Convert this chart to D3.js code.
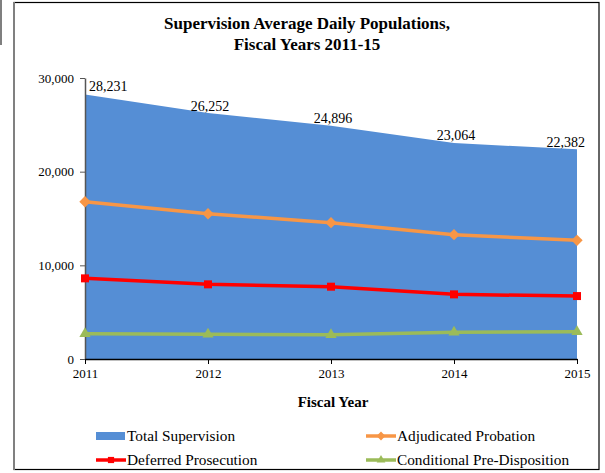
<!DOCTYPE html>
<html><head><meta charset="utf-8">
<script src="https://cdn.jsdelivr.net/npm/d3@7"></script>
<style>body{margin:0;background:#fff;} svg{display:block;}</style>
</head><body>
<svg id="c" width="605" height="473"></svg>
<script>
const years = [2011, 2012, 2013, 2014, 2015];
const totalSupervision = [28231, 26252, 24896, 23064, 22382];
const adjudicatedProbation = [16790, 15510, 14550, 13270, 12670];
const deferredProsecution = [8610, 7970, 7720, 6900, 6720];
const conditionalPreDisposition = [2700, 2630, 2590, 2850, 2920];
const yTicks = [0, 10000, 20000, 30000];

const svg = d3.select("#c");
const font = "'Liberation Serif', 'Times New Roman', serif";

// frame
svg.append("rect").attr("x",14).attr("y",2.5).attr("width",585).attr("height",467)
  .attr("fill","#fff").attr("stroke","#000").attr("stroke-width",1.2);
svg.append("line").attr("x1",14).attr("x2",14).attr("y1",2).attr("y2",470).attr("stroke","#808080").attr("stroke-width",2);
svg.append("line").attr("x1",1).attr("x2",1).attr("y1",0).attr("y2",45).attr("stroke","#555").attr("stroke-width",1.5);

const x = d3.scaleLinear().domain([2011,2015]).range([85,577]);
const y = d3.scaleLinear().domain([0,30000]).range([359,78]);

// title
const t = svg.append("text").attr("text-anchor","middle").attr("font-family",font)
  .attr("font-weight","bold").attr("font-size",17).attr("fill","#000");
t.append("tspan").attr("x",307).attr("y",29).text("Supervision Average Daily Populations,");
t.append("tspan").attr("x",307).attr("y",50).text("Fiscal Years 2011-15");

// area
const area = d3.area().x((d,i)=>x(years[i])).y0(y(0)).y1(d=>y(d));
svg.append("path").datum(totalSupervision).attr("d",area).attr("fill","#558ed5");

// data labels
svg.selectAll("text.dl").data(totalSupervision).enter().append("text")
  .attr("class","dl").attr("font-family",font).attr("font-size",14).attr("fill","#000")
  .attr("text-anchor",(d,i)=> i===0 ? "start" : (i===4 ? "end" : "middle"))
  .attr("x",(d,i)=> i===0 ? x(years[i])+4 : (i===4 ? x(years[i])+8 : x(years[i])+2))
  .attr("y",(d,i)=> y(d) - (i===0 ? 4 : 2.5))
  .text(d=>d3.format(",")(d));

// axes
const yAxis = d3.axisLeft(y).tickValues(yTicks).tickFormat(d3.format(",")).tickSize(5).tickSizeOuter(0);
const gy = svg.append("g").attr("transform",`translate(${x(2011)},0)`).call(yAxis);
gy.attr("font-family",font);
gy.select(".domain").attr("stroke","#555").attr("stroke-width",1.5);
gy.selectAll(".tick line").attr("stroke","#555");
gy.selectAll("text").attr("font-family",font).attr("font-size",13).attr("fill","#000").attr("x",-11);

const xAxis = d3.axisBottom(x).tickValues(years).tickFormat(d3.format("d")).tickSize(5).tickSizeOuter(0);
const gx = svg.append("g").attr("transform",`translate(0,${y(0)})`).call(xAxis);
gx.attr("font-family",font);
gx.select(".domain").attr("stroke","#000").attr("stroke-width",1.3);
gx.selectAll(".tick line").attr("stroke","#000");
gx.selectAll("text").attr("font-family",font).attr("font-size",13).attr("fill","#000").attr("y",10);

svg.append("text").attr("x",333).attr("y",407).attr("text-anchor","middle").attr("font-family",font)
  .attr("font-weight","bold").attr("font-size",15).text("Fiscal Year");

// lines
const line = d3.line().x((d,i)=>x(years[i])).y(d=>y(d));
const series = [
  {name:"Adjudicated Probation", data:adjudicatedProbation, color:"#f79646", sym:d3.symbolSquare, size:64, rot:45},
  {name:"Deferred Prosecution", data:deferredProsecution, color:"#ff0000", sym:d3.symbolSquare, size:64, rot:0},
  {name:"Conditional Pre-Disposition", data:conditionalPreDisposition, color:"#9bbb59", sym:d3.symbolTriangle, size:55, rot:0},
];
series.forEach(s=>{
  svg.append("path").datum(s.data).attr("d",line).attr("fill","none").attr("stroke",s.color).attr("stroke-width",3.5);
  svg.selectAll(null).data(s.data).enter().append("path")
    .attr("d",d3.symbol().type(s.sym).size(s.size))
    .attr("transform",(d,i)=>`translate(${x(years[i])},${y(d)}) rotate(${s.rot})`).attr("fill",s.color);
});

// legend
const lg = svg.append("g").attr("font-family",font).attr("font-size",15.3);
const items = [
  {name:"Total Supervision", type:"rect", color:"#558ed5", lx:96, ly:436},
  {name:"Adjudicated Probation", s:series[0], lx:366, ly:436},
  {name:"Deferred Prosecution", s:series[1], lx:96, ly:460},
  {name:"Conditional Pre-Disposition", s:series[2], lx:366, ly:460},
];
items.forEach(it=>{
  if(it.type==="rect"){
    lg.append("rect").attr("x",it.lx).attr("y",it.ly-4).attr("width",29).attr("height",8).attr("fill",it.color);
  } else {
    lg.append("line").attr("x1",it.lx).attr("x2",it.lx+30).attr("y1",it.ly).attr("y2",it.ly).attr("stroke",it.s.color).attr("stroke-width",3.5);
    lg.append("path").attr("d",d3.symbol().type(it.s.sym).size(it.s.size*0.6)).attr("transform",`translate(${it.lx+15},${it.ly}) rotate(${it.s.rot})`).attr("fill",it.s.color);
  }
  lg.append("text").attr("x",it.lx+31).attr("y",it.ly+5).text(it.name);
});
</script>
</body></html>
